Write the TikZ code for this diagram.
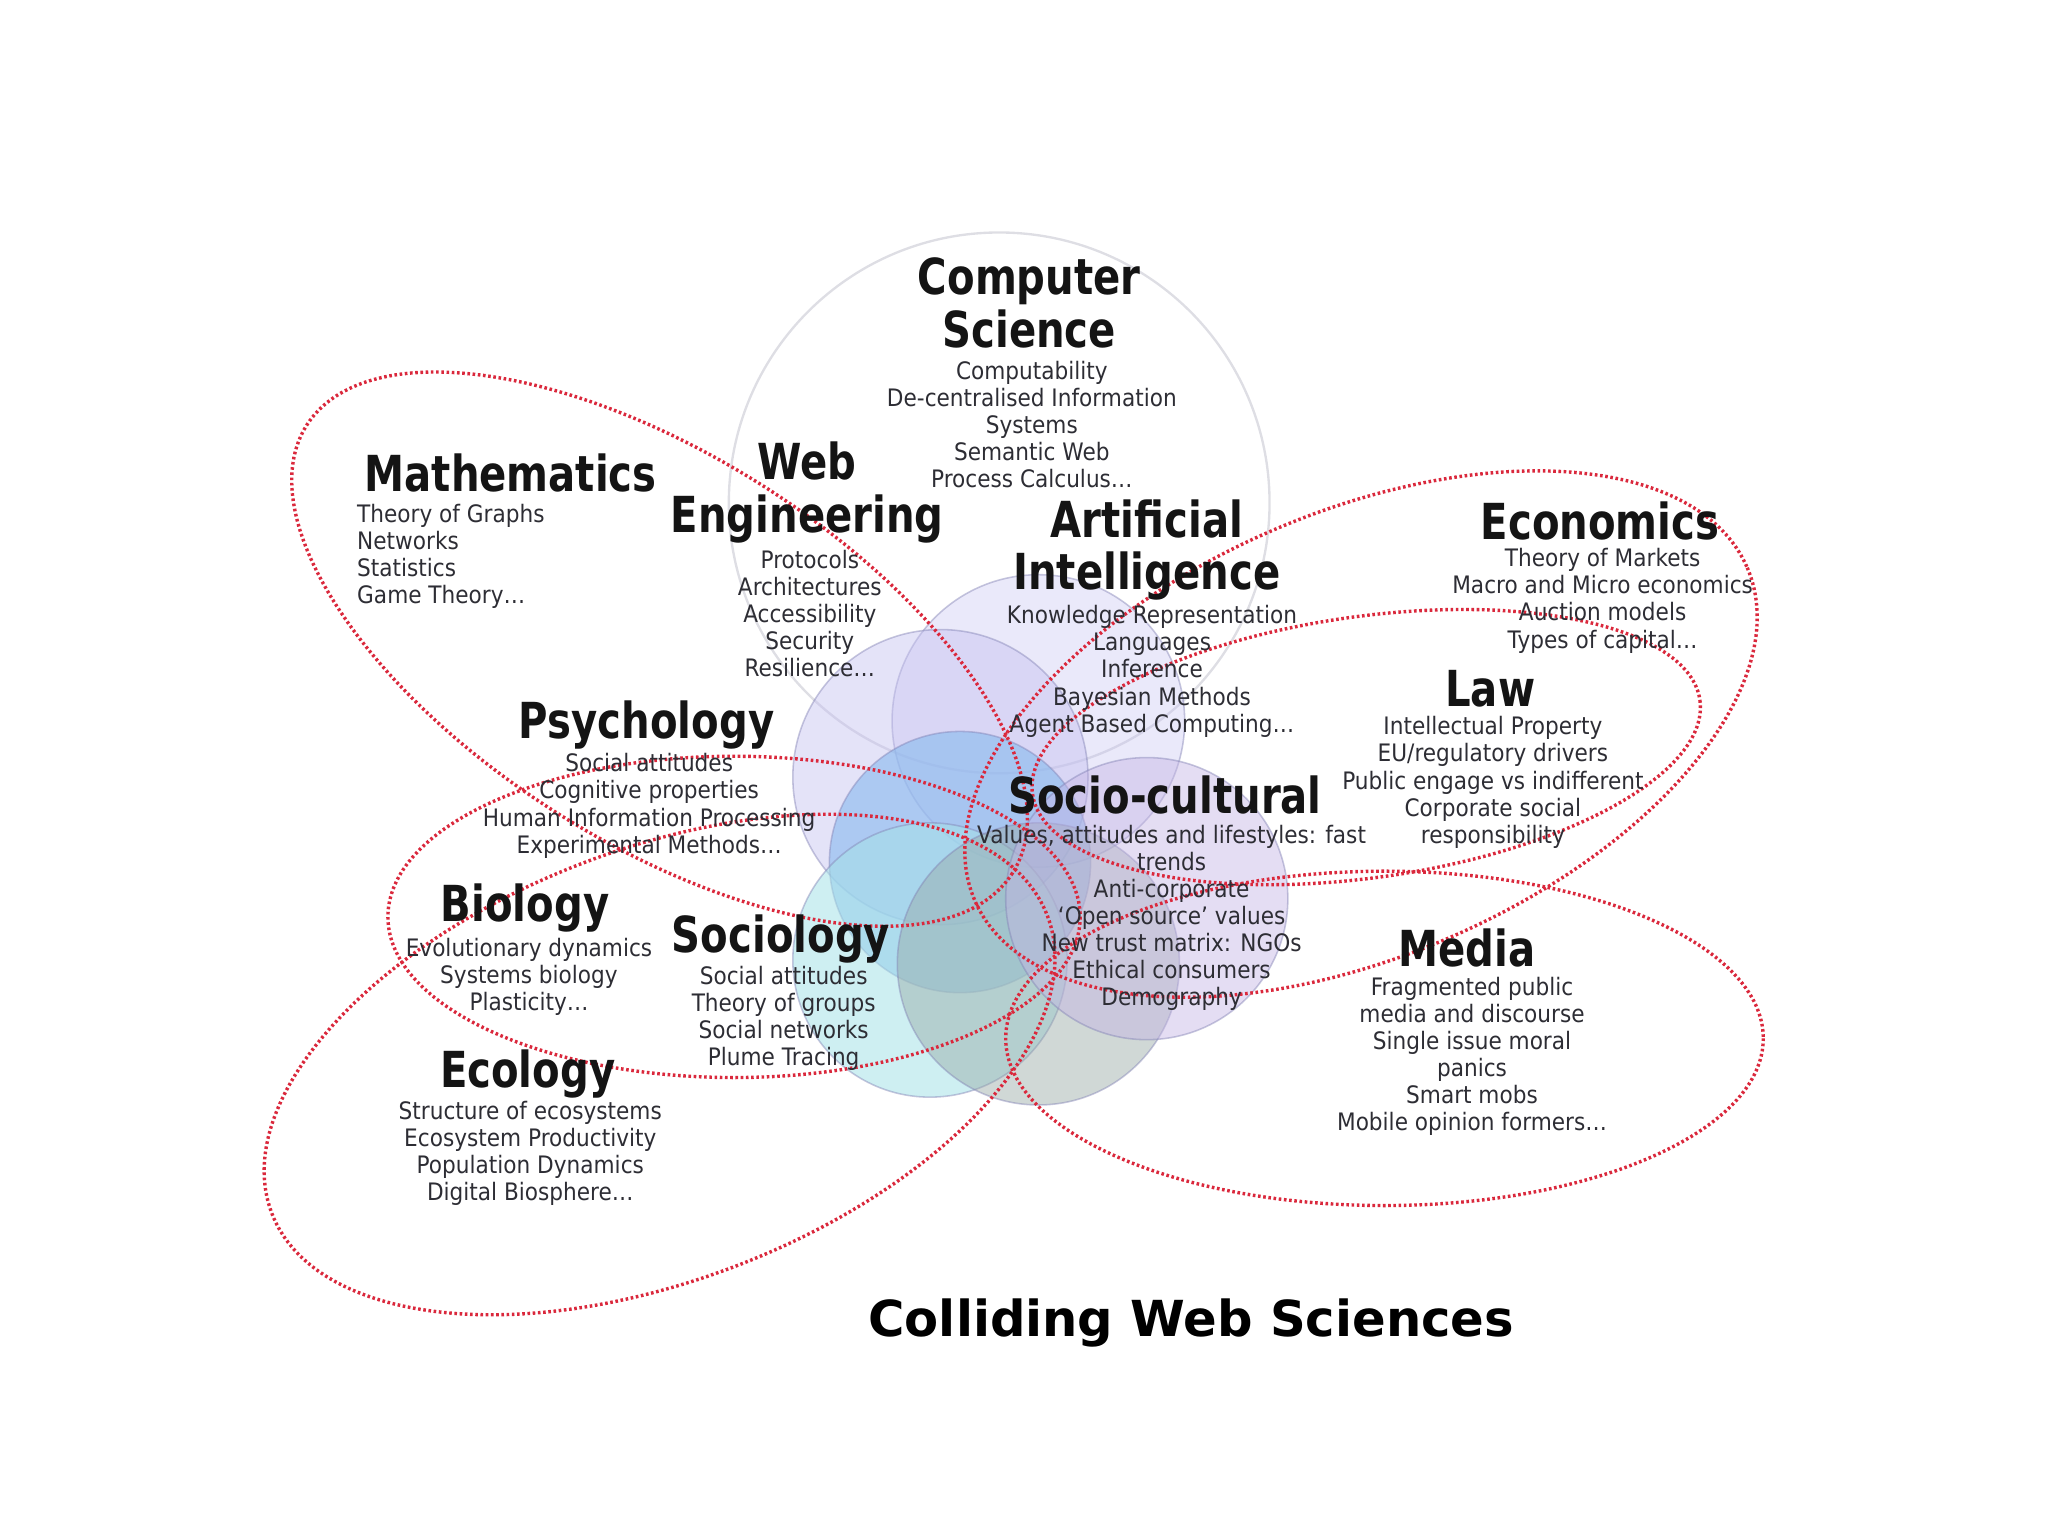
\documentclass[tikz,border=0pt]{standalone}
\usepackage{fontspec}
\setmainfont{DejaVu Sans}
\newfontfamily\headfont[FakeStretch=0.81]{DejaVu Sans}
\newfontfamily\itemfont[FakeStretch=0.9]{DejaVu Sans}
\definecolor{ink}{RGB}{20,20,20}
\definecolor{itemgray}{RGB}{45,45,52}
\definecolor{rim}{RGB}{130,130,180}
\definecolor{csrim}{RGB}{222,222,228}
\definecolor{lav}{RGB}{196,192,240}
\definecolor{sky}{RGB}{135,185,238}
\definecolor{aqua}{RGB}{165,226,232}
\definecolor{sage}{RGB}{150,168,165}
\definecolor{mauve}{RGB}{196,180,228}
\definecolor{petalred}{RGB}{218,40,60}
\tikzset{
  every picture/.style={line width=0.5pt},
  head/.style={font=\headfont\bfseries\fontsize{19}{20}\selectfont, text=ink, align=center, inner sep=0pt},
  items/.style={font=\itemfont\fontsize{9.2}{10.35}\selectfont, text=itemgray, align=center, inner sep=0pt},
  caption/.style={font=\bfseries\fontsize{19}{22}\selectfont, text=black, inner sep=0pt},
  disc/.style={draw=rim, draw opacity=0.45, line width=0.6pt},
  petal/.style={draw=petalred, line width=1.3pt, dash pattern=on 1pt off 1pt},
}
\begin{document}
\begin{tikzpicture}[x=0.5pt, y=-0.5pt]
  \useasboundingbox (0,0) rectangle (1568,1176);
  % the faint computer science ring behind everything
  \draw[draw=csrim, line width=0.9pt] (765,385) circle (207);
  % the coloured rosette in the middle
  \foreach \x/\y/\r/\c/\o in {795/552/112/lav/0.35, 720/595/113/lav/0.45, 735/660/100/sky/0.6,
      712/735/105/aqua/0.55, 795/738/108/sage/0.45, 878/688/108/mauve/0.45} {
    \filldraw[disc, fill=\c, fill opacity=\o] (\x,\y) circle (\r);
  }
  % red dotted petals, all meeting near the centre
  \foreach \x/\y/\a/\b/\t in {505/497/320/148/-32.4, 1042/562/322/170/23.3, 1046/572/258/100/8,
      1060/795/290/128/0, 505/815/318/165/21, 562/702/265/123/0} {
    \draw[petal, rotate around={\t:(\x,\y)}] (\x,\y) ellipse [x radius=\a, y radius=\b];
  }
  % discipline names and their topics
  \node[head] (cs) at (788,232) {Computer\\Science};
  \node[items] (csitems) at (790,325) {Computability\\De-centralised Information\\Systems\\Semantic Web\\Process Calculus…};
  \node[head] (web) at (618,377) {Web\\Engineering};
  \node[items] (webitems) at (620,470) {Protocols\\Architectures\\Accessibility\\Security\\Resilience…};
  \node[head] (maths) at (391,362) {Mathematics};
  \node[items, anchor=west, align=left] (mathsitems) at (273,426) {Theory of Graphs\\Networks\\Statistics\\Game Theory…};
  \node[head] (ai) at (878,421) {Artificial\\Intelligence};
  \node[items] (aiitems) at (882,514) {Knowledge Representation\\Languages\\Inference\\Bayesian Methods\\Agent Based Computing…};
  \node[head] (econ) at (1225,399) {Economics};
  \node[items] (econitems) at (1227,460) {Theory of Markets\\Macro and Micro economics\\Auction models\\Types of capital…};
  \node[head] (law) at (1141,527) {Law};
  \node[items] (lawitems) at (1143,599) {Intellectual Property\\EU/regulatory drivers\\Public engage vs indifferent\\Corporate social\\responsibility};
  \node[head] (psych) at (495,555) {Psychology};
  \node[items] (psychitems) at (497,617) {Social attitudes\\Cognitive properties\\Human Information Processing\\Experimental Methods…};
  \node[head] (socio) at (892,609) {Socio-cultural};
  \node[items] (socioitems) at (897,703) {Values, attitudes and lifestyles: fast\\trends\\Anti-corporate\\‘Open source’ values\\New trust matrix: NGOs\\Ethical consumers\\Demography};
  \node[head] (bio) at (402,695) {Biology};
  \node[items] (bioitems) at (405,748) {Evolutionary dynamics\\Systems biology\\Plasticity…};
  \node[head] (sociol) at (598,719) {Sociology};
  \node[items] (sociolitems) at (600,780) {Social attitudes\\Theory of groups\\Social networks\\Plume Tracing};
  \node[head] (media) at (1123,726) {Media};
  \node[items] (mediaitems) at (1127,809) {Fragmented public\\media and discourse\\Single issue moral\\panics\\Smart mobs\\Mobile opinion formers…};
  \node[head] (eco) at (404,822) {Ecology};
  \node[items] (ecoitems) at (406,883) {Structure of ecosystems\\Ecosystem Productivity\\Population Dynamics\\Digital Biosphere…};
  \node[caption] (title) at (912,1013) {Colliding Web Sciences};
\end{tikzpicture}
\end{document}
